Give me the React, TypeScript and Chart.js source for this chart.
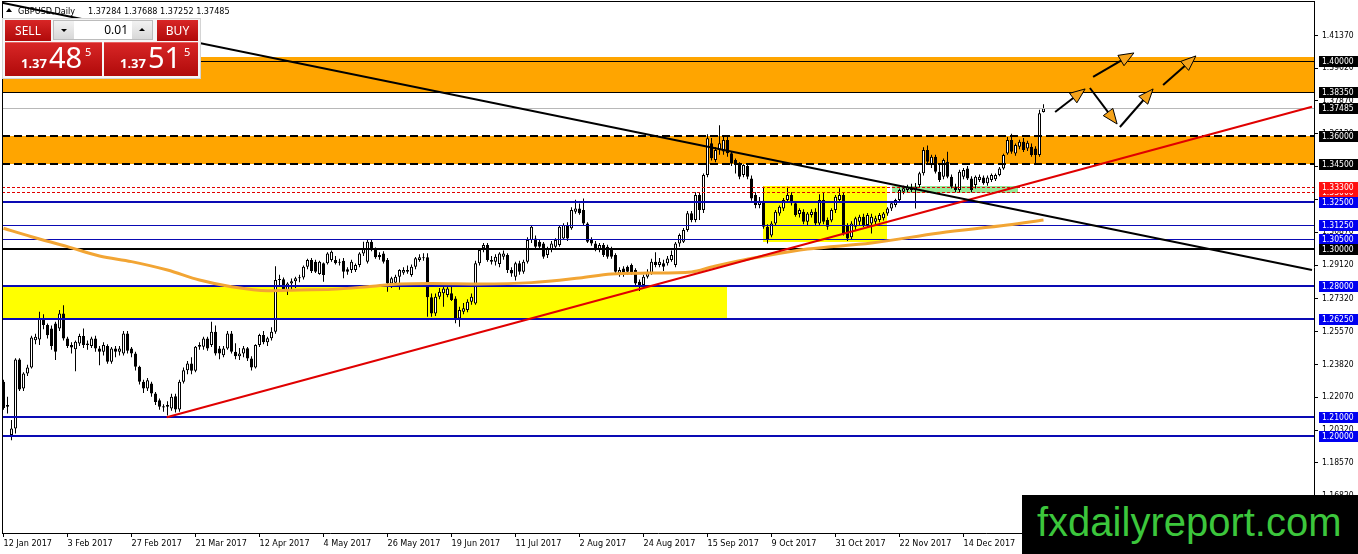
import React, { useEffect, useRef } from 'react';
import { Chart, registerables } from 'chart.js';

Chart.register(...registerables);

// ---------------- data (GBPUSD daily) ----------------
const opens = [
  1.2290, 1.2156, 1.2005, 1.2040, 1.2408, 1.2254, 1.2334, 1.2366, 1.2511, 1.2515,
  1.2627, 1.2592, 1.2574, 1.2600, 1.2574, 1.2654, 1.2520, 1.2485, 1.2463, 1.2494,
  1.2533, 1.2494, 1.2480, 1.2520, 1.2467, 1.2449, 1.2480, 1.2396, 1.2467, 1.2449,
  1.2440, 1.2547, 1.2467, 1.2440, 1.2369, 1.2289, 1.2254, 1.2280, 1.2227, 1.2191,
  1.2159, 1.2156, 1.2147, 1.2212, 1.2141, 1.2289, 1.2351, 1.2387, 1.2348, 1.2476,
  1.2476, 1.2520, 1.2485, 1.2556, 1.2467, 1.2431, 1.2467, 1.2547, 1.2450, 1.2425,
  1.2440, 1.2468, 1.2414, 1.2365, 1.2485, 1.2539, 1.2500, 1.2521, 1.2556, 1.2832,
  1.2836, 1.2779, 1.2814, 1.2825, 1.2841, 1.2846, 1.2903, 1.2939, 1.2930, 1.2864,
  1.2921, 1.2921, 1.2939, 1.2939, 1.2930, 1.2935, 1.2889, 1.2885, 1.2885, 1.2912,
  1.2974, 1.2930, 1.3036, 1.2996, 1.2965, 1.2974, 1.2939, 1.2814, 1.2818, 1.2850,
  1.2871, 1.2876, 1.2859, 1.2903, 1.2939, 1.2953, 1.2953, 1.2740, 1.2654, 1.2743,
  1.2761, 1.2752, 1.2761, 1.2734, 1.2627, 1.2663, 1.2672, 1.2716, 1.2707, 1.2921,
  1.3001, 1.3019, 1.2939, 1.2930, 1.2917, 1.2956, 1.2965, 1.2885, 1.2850, 1.2921,
  1.2876, 1.2930, 1.3045, 1.3054, 1.3036, 1.3027, 1.2965, 1.2992, 1.3010, 1.3019,
  1.3054, 1.3125, 1.3108, 1.3196, 1.3214, 1.3205, 1.3134, 1.3045, 1.3027, 1.2992,
  1.3019, 1.3010, 1.3001, 1.2965, 1.2867, 1.2894, 1.2903, 1.2912, 1.2885, 1.2823,
  1.2805, 1.2850, 1.2867, 1.2930, 1.2912, 1.2921, 1.2921, 1.2939, 1.2912, 1.3027,
  1.3036, 1.3099, 1.3188, 1.3152, 1.3285, 1.3205, 1.3392, 1.3561, 1.3472, 1.3525,
  1.3517, 1.3579, 1.3508, 1.3472, 1.3454, 1.3392, 1.3440, 1.3374, 1.3285, 1.3232,
  1.3255, 1.3116, 1.3070, 1.3134, 1.3187, 1.3214, 1.3259, 1.3285, 1.3241, 1.3184,
  1.3196, 1.3143, 1.3179, 1.3196, 1.3134, 1.3259, 1.3152, 1.3150, 1.3205, 1.3259,
  1.3285, 1.3125, 1.3060, 1.3116, 1.3143, 1.3170, 1.3125, 1.3134, 1.3143, 1.3152,
  1.3161, 1.3187, 1.3214, 1.3232, 1.3259, 1.3303, 1.3312, 1.3330, 1.3312, 1.3339,
  1.3401, 1.3525, 1.3445, 1.3490, 1.3410, 1.3383, 1.3463, 1.3383, 1.3330, 1.3312,
  1.3383, 1.3427, 1.3374, 1.3339, 1.3365, 1.3379, 1.3348, 1.3365, 1.3370, 1.3392,
  1.3427, 1.3507, 1.3579, 1.3507, 1.3543, 1.3570, 1.3534, 1.3543, 1.3534, 1.3499,
  1.37284,
];

const highs = [
  1.2300, 1.2209, 1.2085, 1.2415, 1.2415, 1.2340, 1.2380, 1.2535, 1.2545, 1.2663,
  1.2650, 1.2600, 1.2590, 1.2610, 1.2672, 1.2698, 1.2530, 1.2500, 1.2510, 1.2545,
  1.2574, 1.2510, 1.2530, 1.2535, 1.2480, 1.2500, 1.2490, 1.2475, 1.2480, 1.2480,
  1.2560, 1.2560, 1.2475, 1.2450, 1.2375, 1.2300, 1.2310, 1.2290, 1.2235, 1.2200,
  1.2170, 1.2185, 1.2225, 1.2225, 1.2300, 1.2365, 1.2400, 1.2420, 1.2480, 1.2500,
  1.2530, 1.2530, 1.2610, 1.2590, 1.2480, 1.2480, 1.2560, 1.2560, 1.2495, 1.2470,
  1.2480, 1.2475, 1.2425, 1.2490, 1.2545, 1.2560, 1.2530, 1.2580, 1.2905, 1.2860,
  1.2845, 1.2820, 1.2840, 1.2850, 1.2860, 1.2910, 1.2945, 1.2950, 1.2940, 1.2935,
  1.2925, 1.2980, 1.2990, 1.2960, 1.2945, 1.2950, 1.2900, 1.2940, 1.2920, 1.2980,
  1.3036, 1.3045, 1.3048, 1.3005, 1.2980, 1.2985, 1.2950, 1.2850, 1.2860, 1.2890,
  1.2900, 1.2910, 1.2915, 1.2955, 1.2970, 1.2975, 1.2975, 1.2760, 1.2760, 1.2790,
  1.2800, 1.2810, 1.2800, 1.2745, 1.2690, 1.2710, 1.2730, 1.2760, 1.2935, 1.3000,
  1.3030, 1.3030, 1.2960, 1.2970, 1.2980, 1.2990, 1.2975, 1.2900, 1.2930, 1.2935,
  1.2940, 1.3060, 1.3126, 1.3070, 1.3050, 1.3035, 1.3010, 1.3040, 1.3055, 1.3125,
  1.3135, 1.3140, 1.3220, 1.3260, 1.3240, 1.3267, 1.3140, 1.3060, 1.3040, 1.3030,
  1.3030, 1.3020, 1.3010, 1.2975, 1.2900, 1.2905, 1.2910, 1.2920, 1.2895, 1.2835,
  1.2860, 1.2890, 1.2945, 1.2980, 1.2950, 1.2940, 1.2960, 1.2990, 1.3035, 1.3080,
  1.3110, 1.3200, 1.3200, 1.3300, 1.3300, 1.3400, 1.3610, 1.3590, 1.3540, 1.3657,
  1.3600, 1.3600, 1.3520, 1.3480, 1.3460, 1.3450, 1.3455, 1.3390, 1.3300, 1.3275,
  1.3330, 1.3130, 1.3145, 1.3205, 1.3230, 1.3270, 1.3330, 1.3300, 1.3250, 1.3215,
  1.3210, 1.3195, 1.3210, 1.3215, 1.3290, 1.3300, 1.3165, 1.3215, 1.3285, 1.3321,
  1.3300, 1.3135, 1.3145, 1.3170, 1.3180, 1.3185, 1.3190, 1.3185, 1.3175, 1.3190,
  1.3195, 1.3220, 1.3250, 1.3265, 1.3320, 1.3335, 1.3340, 1.3345, 1.3350, 1.3410,
  1.3540, 1.3550, 1.3500, 1.3500, 1.3445, 1.3480, 1.3516, 1.3395, 1.3345, 1.3420,
  1.3430, 1.3440, 1.3385, 1.3390, 1.3395, 1.3390, 1.3390, 1.3400, 1.3400, 1.3435,
  1.3505, 1.3595, 1.3612, 1.3560, 1.3580, 1.3590, 1.3575, 1.3560, 1.3545, 1.3740,
  1.37688,
];

const lows = [
  1.2140, 1.2120, 1.1978, 1.2013, 1.2240, 1.2240, 1.2320, 1.2360, 1.2490, 1.2485,
  1.2570, 1.2520, 1.2460, 1.2405, 1.2560, 1.2510, 1.2470, 1.2440, 1.2345, 1.2480,
  1.2470, 1.2460, 1.2470, 1.2450, 1.2378, 1.2430, 1.2385, 1.2385, 1.2420, 1.2430,
  1.2430, 1.2440, 1.2420, 1.2350, 1.2275, 1.2230, 1.2240, 1.2210, 1.2165, 1.2140,
  1.2130, 1.2109, 1.2135, 1.2125, 1.2130, 1.2280, 1.2330, 1.2330, 1.2340, 1.2460,
  1.2460, 1.2455, 1.2475, 1.2430, 1.2410, 1.2420, 1.2460, 1.2440, 1.2410, 1.2405,
  1.2420, 1.2400, 1.2350, 1.2360, 1.2475, 1.2490, 1.2480, 1.2510, 1.2545, 1.2800,
  1.2775, 1.2752, 1.2780, 1.2790, 1.2820, 1.2835, 1.2890, 1.2870, 1.2870, 1.2860,
  1.2823, 1.2915, 1.2930, 1.2915, 1.2910, 1.2841, 1.2860, 1.2870, 1.2875, 1.2900,
  1.2960, 1.2920, 1.2985, 1.2945, 1.2940, 1.2920, 1.2770, 1.2790, 1.2800, 1.2780,
  1.2860, 1.2865, 1.2850, 1.2890, 1.2930, 1.2935, 1.2636, 1.2636, 1.2640, 1.2730,
  1.2690, 1.2740, 1.2720, 1.2601, 1.2583, 1.2650, 1.2660, 1.2700, 1.2700, 1.2910,
  1.2980, 1.2930, 1.2915, 1.2910, 1.2900, 1.2940, 1.2870, 1.2850, 1.2830, 1.2860,
  1.2865, 1.2920, 1.3030, 1.3000, 1.2995, 1.2945, 1.2950, 1.2980, 1.3000, 1.3010,
  1.3045, 1.3040, 1.3100, 1.3185, 1.3180, 1.3125, 1.3030, 1.3015, 1.2985, 1.2980,
  1.2955, 1.2945, 1.2945, 1.2865, 1.2850, 1.2850, 1.2860, 1.2860, 1.2805, 1.2774,
  1.2790, 1.2840, 1.2860, 1.2900, 1.2900, 1.2880, 1.2910, 1.2930, 1.2900, 1.3010,
  1.3030, 1.3090, 1.3140, 1.3140, 1.3152, 1.3190, 1.3380, 1.3470, 1.3460, 1.3500,
  1.3500, 1.3490, 1.3440, 1.3400, 1.3370, 1.3380, 1.3370, 1.3255, 1.3215, 1.3215,
  1.3105, 1.3027, 1.3060, 1.3120, 1.3175, 1.3200, 1.3245, 1.3230, 1.3170, 1.3165,
  1.3130, 1.3125, 1.3165, 1.3120, 1.3125, 1.3130, 1.3100, 1.3140, 1.3190, 1.3245,
  1.3070, 1.3040, 1.3050, 1.3100, 1.3125, 1.3115, 1.3110, 1.3080, 1.3130, 1.3140,
  1.3150, 1.3175, 1.3200, 1.3220, 1.3245, 1.3290, 1.3300, 1.3300, 1.3214, 1.3325,
  1.3390, 1.3455, 1.3430, 1.3400, 1.3355, 1.3370, 1.3375, 1.3320, 1.3300, 1.3300,
  1.3370, 1.3365, 1.3300, 1.3320, 1.3355, 1.3340, 1.3335, 1.3355, 1.3360, 1.3385,
  1.3420, 1.3500, 1.3505, 1.3495, 1.3530, 1.3515, 1.3520, 1.3490, 1.3454, 1.3490,
  1.37252,
];

const closes = [
  1.2150, 1.2165, 1.2040, 1.2408, 1.2248, 1.2334, 1.2366, 1.2525, 1.2529, 1.2627,
  1.2592, 1.2538, 1.2480, 1.2449, 1.2654, 1.2520, 1.2480, 1.2472, 1.2503, 1.2533,
  1.2485, 1.2485, 1.2520, 1.2467, 1.2449, 1.2485, 1.2396, 1.2467, 1.2449, 1.2467,
  1.2547, 1.2455, 1.2440, 1.2369, 1.2289, 1.2254, 1.2298, 1.2227, 1.2182, 1.2156,
  1.2152, 1.2165, 1.2209, 1.2141, 1.2289, 1.2351, 1.2387, 1.2348, 1.2476, 1.2485,
  1.2520, 1.2467, 1.2556, 1.2440, 1.2440, 1.2467, 1.2547, 1.2450, 1.2425, 1.2440,
  1.2468, 1.2414, 1.2365, 1.2485, 1.2539, 1.2500, 1.2521, 1.2556, 1.2832, 1.2836,
  1.2779, 1.2814, 1.2825, 1.2841, 1.2846, 1.2903, 1.2939, 1.2880, 1.2876, 1.2930,
  1.2859, 1.2974, 1.2983, 1.2921, 1.2924, 1.2876, 1.2876, 1.2930, 1.2912, 1.2974,
  1.3001, 1.3036, 1.2992, 1.2953, 1.2953, 1.2930, 1.2814, 1.2841, 1.2850, 1.2885,
  1.2885, 1.2885, 1.2903, 1.2948, 1.2953, 1.2948, 1.2740, 1.2654, 1.2743, 1.2770,
  1.2787, 1.2787, 1.2725, 1.2627, 1.2672, 1.2681, 1.2716, 1.2743, 1.2921, 1.2992,
  1.3019, 1.2939, 1.2930, 1.2956, 1.2974, 1.2974, 1.2885, 1.2867, 1.2921, 1.2876,
  1.2930, 1.3045, 1.3116, 1.3010, 1.3010, 1.2956, 1.3001, 1.3027, 1.3045, 1.3116,
  1.3125, 1.3054, 1.3205, 1.3214, 1.3188, 1.3134, 1.3036, 1.3027, 1.2992, 1.3019,
  1.2965, 1.2956, 1.2956, 1.2876, 1.2885, 1.2859, 1.2876, 1.2867, 1.2814, 1.2805,
  1.2850, 1.2876, 1.2930, 1.2912, 1.2930, 1.2903, 1.2947, 1.2965, 1.3027, 1.3072,
  1.3099, 1.3188, 1.3152, 1.3285, 1.3205, 1.3392, 1.3588, 1.3481, 1.3525, 1.3561,
  1.3579, 1.3508, 1.3454, 1.3445, 1.3383, 1.3445, 1.3383, 1.3267, 1.3232, 1.3255,
  1.3116, 1.3045, 1.3134, 1.3196, 1.3223, 1.3259, 1.3285, 1.3241, 1.3179, 1.3205,
  1.3143, 1.3187, 1.3196, 1.3134, 1.3259, 1.3143, 1.3116, 1.3205, 1.3276, 1.3285,
  1.3081, 1.3054, 1.3134, 1.3161, 1.3170, 1.3125, 1.3179, 1.3170, 1.3161, 1.3179,
  1.3187, 1.3214, 1.3241, 1.3259, 1.3312, 1.3321, 1.3330, 1.3312, 1.3330, 1.3401,
  1.3525, 1.3463, 1.3490, 1.3410, 1.3365, 1.3472, 1.3383, 1.3330, 1.3312, 1.3410,
  1.3419, 1.3374, 1.3312, 1.3383, 1.3383, 1.3348, 1.3379, 1.3392, 1.3392, 1.3427,
  1.3499, 1.3579, 1.3516, 1.3552, 1.3570, 1.3525, 1.3564, 1.3499, 1.3499, 1.3721,
  1.37485,
];

// date axis (bar index of each label) and labels
const dateTickBars = [0, 16, 32, 48, 64, 80, 96, 112, 128, 144, 160, 176, 192, 208, 224, 240, 256];
const dateTickLabels = [
  '12 Jan 2017', '3 Feb 2017', '27 Feb 2017', '21 Mar 2017', '12 Apr 2017', '4 May 2017',
  '26 May 2017', '19 Jun 2017', '11 Jul 2017', '2 Aug 2017', '24 Aug 2017', '15 Sep 2017',
  '9 Oct 2017', '31 Oct 2017', '22 Nov 2017', '14 Dec 2017', '5 Jan 2018',
];

// price axis ticks
const priceTicks = [1.1682, 1.1857, 1.2032, 1.2207, 1.2382, 1.2557, 1.2732, 1.2912, 1.3087, 1.3262, 1.3437, 1.3612, 1.3787, 1.3962, 1.4137];

// moving average (read at selected bars)
const maBars = [0, 7, 16, 24, 32, 41, 49, 57, 66, 74, 82, 91, 99, 107, 119, 132, 144, 152, 161, 172, 177, 184, 189, 201, 217, 234, 251, 260];
const maValues = [1.3108, 1.3063, 1.3010, 1.2960, 1.2930, 1.2885, 1.2832, 1.2796, 1.2775, 1.2779, 1.2782, 1.2796, 1.2811, 1.2814, 1.2811, 1.2818, 1.2843, 1.2864, 1.2869, 1.2875, 1.2901, 1.2935, 1.2955, 1.2997, 1.3029, 1.3083, 1.3125, 1.3152];

// trend lines (bar index, price)
const blackTrendBars = [-0.375, 327.125];
const blackTrendPrices = [1.4311, 1.2885];
const redTrendBars = [40.8, 327.125];
const redTrendPrices = [1.2100, 1.3756];

// zones (bar range, price range)
const zoneStartBars = [-0.375, -0.375, -0.375, 189.8, 222];
const zoneEndBars = [327.625, 327.625, 180.9, 220.8, 253.7];
const zoneHighs = [1.4024, 1.3600, 1.2800, 1.3333, 1.3331];
const zoneLows = [1.3830, 1.3450, 1.2625, 1.3035, 1.3296];

// horizontal levels
const levelPrices = [1.4, 1.3835, 1.37485, 1.36, 1.345, 1.333, 1.33, 1.325, 1.3125, 1.305, 1.3, 1.28, 1.2625, 1.21, 1.2];

// price tags on the axis
const tagPrices = [1.4, 1.3835, 1.37485, 1.36, 1.345, 1.33, 1.333, 1.325, 1.3125, 1.305, 1.3, 1.28, 1.2625, 1.21, 1.2];

// projected path arrows (bar index, price)
const arrowFromBars = [262.9, 272.4, 271.6, 279.1, 289.9];
const arrowFromPrices = [1.3728, 1.3915, 1.3856, 1.3648, 1.3872];
const arrowToBars = [270.4, 282.6, 278.4, 287.4, 298.1];
const arrowToPrices = [1.3851, 1.4043, 1.3664, 1.3851, 1.4027];

// quote panel
const symbolName = 'GBPUSD,Daily';
const bidPrice = 1.37485;
const askPrice = 1.37515;
const lotSize = '0.01';

// ---------------- styles ----------------
const FONT = '"DejaVu Sans Condensed", "Liberation Sans Narrow", "DejaVu Sans", sans-serif';
const zoneColors = ['#ffa500', '#ffa500', '#ffff00', '#ffff00', '#98e898'];
const BLUE = '#0a0ab4';
const levelColors = ['#000', '#000', '#b8b8b8', '#000', '#000', '#e00000', '#e00000', BLUE, BLUE, BLUE, '#000', BLUE, BLUE, BLUE, BLUE];
const levelWidths = [1, 1, 1, 2, 2, 1, 1, 2, 1, 1, 2, 2, 2, 2, 2];
const levelDashes = [[], [], [], [8, 4], [8, 4], [3, 2], [3, 2], [], [], [], [], [], [], [], []];
const TAG_BLUE = '#0000f0';
const TAG_RED = '#ff1010';
const tagColors = ['#000', '#000', '#000', '#000', '#000', TAG_RED, TAG_RED, TAG_BLUE, TAG_BLUE, TAG_BLUE, '#000', TAG_BLUE, TAG_BLUE, TAG_BLUE, TAG_BLUE];

const overlayPlugin = {
  id: 'mt4Overlay',
  beforeDatasetsDraw(chart: any) {
    const { ctx, chartArea: a, scales } = chart;
    const x = scales.x, y = scales.y;
    ctx.save();
    ctx.beginPath();
    ctx.rect(a.left, a.top, a.right - a.left, a.bottom - a.top);
    ctx.clip();
    zoneStartBars.forEach((s, k) => {
      const x1 = Math.round(x.getPixelForValue(s));
      const x2 = Math.round(x.getPixelForValue(zoneEndBars[k]));
      const y1 = Math.round(y.getPixelForValue(zoneHighs[k]));
      const y2 = Math.round(y.getPixelForValue(zoneLows[k]));
      ctx.fillStyle = zoneColors[k];
      ctx.fillRect(x1, y1, x2 - x1, y2 - y1);
    });
    ctx.restore();
  },
  afterDatasetDraw(chart: any, args: any) {
    if (args.index !== 3) return; // after the candle bodies
    const { ctx, chartArea: a, scales } = chart;
    const y = scales.y;
    ctx.save();
    ctx.beginPath();
    ctx.rect(a.left, a.top, a.right - a.left, a.bottom - a.top);
    ctx.clip();
    levelPrices.forEach((p, k) => {
      const w = levelWidths[k];
      let py = Math.round(y.getPixelForValue(p));
      if (w % 2 === 1) py += 0.5;
      ctx.strokeStyle = levelColors[k];
      ctx.lineWidth = w;
      ctx.setLineDash(levelDashes[k]);
      ctx.beginPath();
      ctx.moveTo(a.left, py);
      ctx.lineTo(a.right, py);
      ctx.stroke();
    });
    ctx.restore();
  },
  afterDatasetsDraw(chart: any) {
    const { ctx, chartArea: a, scales } = chart;
    const x = scales.x, y = scales.y;
    ctx.save();
    ctx.beginPath();
    ctx.rect(a.left, a.top, a.right - a.left, a.bottom - a.top);
    ctx.clip();
    ctx.setLineDash([]);
    arrowFromBars.forEach((b, k) => {
      const x1 = x.getPixelForValue(b), y1 = y.getPixelForValue(arrowFromPrices[k]);
      const x2 = x.getPixelForValue(arrowToBars[k]), y2 = y.getPixelForValue(arrowToPrices[k]);
      const ang = Math.atan2(y2 - y1, x2 - x1);
      const L = 15, W = 6;
      const bx = x2 - L * Math.cos(ang), by = y2 - L * Math.sin(ang);
      ctx.strokeStyle = '#000';
      ctx.lineWidth = 2;
      ctx.beginPath();
      ctx.moveTo(x1, y1);
      ctx.lineTo(bx, by);
      ctx.stroke();
      ctx.beginPath();
      ctx.moveTo(x2, y2);
      ctx.lineTo(bx + W * Math.sin(ang), by - W * Math.cos(ang));
      ctx.lineTo(bx - W * Math.sin(ang), by + W * Math.cos(ang));
      ctx.closePath();
      ctx.fillStyle = '#f5a31a';
      ctx.fill();
      ctx.lineWidth = 1;
      ctx.stroke();
    });
    ctx.restore();
  },
  afterDraw(chart: any) {
    const { ctx, chartArea: a, scales } = chart;
    const y = scales.y;
    ctx.save();
    // frame (top and left)
    ctx.strokeStyle = '#000';
    ctx.lineWidth = 1;
    ctx.beginPath();
    ctx.moveTo(a.left + 0.5, a.top);
    ctx.lineTo(a.left + 0.5, a.bottom);
    ctx.moveTo(a.left, a.top + 0.5);
    ctx.lineTo(a.right, a.top + 0.5);
    ctx.stroke();
    // price tags
    ctx.font = `8.5px ${FONT}`;
    ctx.textAlign = 'left';
    ctx.textBaseline = 'middle';
    tagPrices.forEach((p, k) => {
      const py = Math.round(y.getPixelForValue(p));
      const left = a.right + 5;
      ctx.fillStyle = tagColors[k];
      ctx.fillRect(left, py - 5, chart.width - left, 11);
      ctx.fillStyle = '#fff';
      ctx.fillText(p.toFixed(5), a.right + 8, py + 0.5);
    });
    ctx.restore();
  },
};

function CandleChart() {
  const canvasRef = useRef<HTMLCanvasElement>(null);
  useEffect(() => {
    const canvas = canvasRef.current;
    if (!canvas) return;
    const idx = opens.map((_, i) => i);
    const chart = new Chart(canvas, {
      type: 'bar',
      data: {
        datasets: [
          {
            type: 'line',
            label: 'Trend down',
            data: blackTrendBars.map((b, k) => ({ x: b, y: blackTrendPrices[k] })),
            borderColor: '#000',
            borderWidth: 2,
            pointRadius: 0,
            order: 1,
          } as any,
          {
            type: 'line',
            label: 'Trend up',
            data: redTrendBars.map((b, k) => ({ x: b, y: redTrendPrices[k] })),
            borderColor: '#e00000',
            borderWidth: 2,
            pointRadius: 0,
            order: 1,
          } as any,
          {
            type: 'line',
            label: 'MA',
            data: maBars.map((b, k) => ({ x: b, y: maValues[k] })),
            borderColor: '#f2a534',
            borderWidth: 3,
            pointRadius: 0,
            cubicInterpolationMode: 'monotone',
            order: 2,
          } as any,
          {
            type: 'bar',
            label: 'Body',
            data: idx.map((i) => ({ x: i, y: [opens[i], closes[i]] })),
            backgroundColor: idx.map((i) => (closes[i] >= opens[i] ? '#ffffff' : '#000000')),
            borderColor: '#000',
            borderWidth: 1,
            borderSkipped: false,
            barThickness: 3,
            grouped: false,
            inflateAmount: 0,
            minBarLength: 1,
            order: 3,
          } as any,
          {
            type: 'bar',
            label: 'Wick',
            data: idx.map((i) => ({ x: i, y: [lows[i], highs[i]] })),
            backgroundColor: '#000',
            borderWidth: 0,
            barThickness: 1,
            grouped: false,
            inflateAmount: 0,
            order: 4,
          } as any,
        ],
      },
      options: {
        responsive: false,
        maintainAspectRatio: false,
        devicePixelRatio: 1,
        animation: false,
        events: [],
        layout: { autoPadding: false, padding: { left: 2, top: 1, right: 0, bottom: 0 } } as any,
        plugins: { legend: { display: false }, tooltip: { enabled: false }, title: { display: false } },
        scales: {
          x: {
            type: 'linear',
            position: 'bottom',
            min: -0.375,
            max: 327.625,
            bounds: 'data',
            offset: false,
            afterBuildTicks: (s: any) => {
              s.ticks = dateTickBars.map((v) => ({ value: v }));
            },
            afterFit: (s: any) => {
              s.height = 21;
              s.paddingLeft = 0;
              s.paddingRight = 0;
              s.paddingTop = 0;
              s.paddingBottom = 0;
            },
            ticks: {
              autoSkip: false,
              maxRotation: 0,
              minRotation: 0,
              align: 'start',
              padding: 1,
              color: '#000',
              font: { family: FONT, size: 9 },
              callback: (_v: any, index: number) => dateTickLabels[index],
            },
            grid: { drawOnChartArea: false, drawTicks: true, tickLength: 4, color: '#000', offset: false },
            border: { display: true, color: '#000', width: 1 },
          } as any,
          y: {
            type: 'linear',
            position: 'right',
            min: 1.148267,
            max: 1.432,
            bounds: 'data',
            afterBuildTicks: (s: any) => {
              s.ticks = priceTicks.map((v) => ({ value: v }));
            },
            afterFit: (s: any) => {
              s.width = 44;
              s.paddingLeft = 0;
              s.paddingRight = 0;
              s.paddingTop = 0;
              s.paddingBottom = 0;
            },
            ticks: {
              autoSkip: false,
              padding: 4,
              color: '#000',
              font: { family: FONT, size: 8.5 },
              callback: (v: any) => Number(v).toFixed(5),
            },
            grid: { drawOnChartArea: false, drawTicks: true, tickLength: 4, color: '#000' },
            border: { display: true, color: '#000', width: 1 },
          } as any,
        },
      },
      plugins: [overlayPlugin],
    });
    return () => chart.destroy();
  }, []);
  return (
    <canvas
      ref={canvasRef}
      width={1358}
      height={554}
      style={{ position: 'absolute', left: 0, top: 0, width: 1358, height: 554 }}
    />
  );
}

const RED_GRAD = 'linear-gradient(#d82626, #b00a0a)';
const UI_FONT = '"Noto Sans", "Open Sans", sans-serif';

function PriceBox({ left, width, value }: { left: number; width: number; value: number }) {
  const s = value.toFixed(5);
  const small = s.slice(0, 4);
  const big = s.slice(4, 6);
  const sup = s.slice(6);
  return (
    <div style={{ position: 'absolute', left, top: 42, width, height: 34, background: RED_GRAD, borderTop: '1px solid #e86060', boxSizing: 'border-box', color: '#fff', fontFamily: UI_FONT }}>
      <span style={{ position: 'absolute', left: 16, top: 14, fontSize: 13, lineHeight: '13px', fontWeight: 700 }}>{small}</span>
      <span style={{ position: 'absolute', left: 44, top: -1, fontSize: 29, lineHeight: '29px' }}>{big}</span>
      <span style={{ position: 'absolute', left: 80, top: 3, fontSize: 11, lineHeight: '11px' }}>{sup}</span>
    </div>
  );
}

function TradePanel() {
  const btn: React.CSSProperties = { position: 'absolute', top: 20, height: 21, background: RED_GRAD, color: '#fff', fontFamily: UI_FONT, fontSize: 12, lineHeight: '21px', textAlign: 'center' };
  const gray: React.CSSProperties = { position: 'absolute', top: 0, width: 20, height: 18, background: 'linear-gradient(#f2f2f2, #d8d8d8)' };
  return (
    <>
      <div style={{ position: 'absolute', left: 2, top: 18, width: 199, height: 61, background: '#f6f6f6', border: '1px solid #d4d4d4', boxSizing: 'border-box' }} />
      <div style={{ ...btn, left: 5, width: 46 }}>SELL</div>
      <div style={{ ...btn, left: 157, width: 41 }}>BUY</div>
      <div style={{ position: 'absolute', left: 53, top: 20, width: 100, height: 20, background: '#fff', border: '1px solid #bcbcbc', boxSizing: 'border-box' }}>
        <div style={{ ...gray, left: 0 }}>
          <div style={{ position: 'absolute', left: 7, top: 8, width: 0, height: 0, borderLeft: '3px solid transparent', borderRight: '3px solid transparent', borderTop: '3px solid #000' }} />
        </div>
        <div style={{ position: 'absolute', left: 20, top: 0, width: 54, height: 18, textAlign: 'right', fontFamily: UI_FONT, fontSize: 12, lineHeight: '18px', color: '#000' }}>{lotSize}</div>
        <div style={{ ...gray, left: 78 }}>
          <div style={{ position: 'absolute', left: 7, top: 7, width: 0, height: 0, borderLeft: '3px solid transparent', borderRight: '3px solid transparent', borderBottom: '3px solid #000' }} />
        </div>
      </div>
      <PriceBox left={5} width={97} value={bidPrice} />
      <PriceBox left={104} width={94} value={askPrice} />
    </>
  );
}

function Header() {
  const last = opens.length - 1;
  const quote = [opens[last], highs[last], lows[last], closes[last]].map((v) => v.toFixed(5)).join(' ');
  const txt: React.CSSProperties = { position: 'absolute', top: 6, fontFamily: FONT, fontStretch: 'condensed', fontSize: 9, lineHeight: '10px', color: '#000', whiteSpace: 'nowrap' };
  return (
    <>
      <div style={{ position: 'absolute', left: 6, top: 8, width: 0, height: 0, borderLeft: '3px solid transparent', borderRight: '3px solid transparent', borderBottom: '4px solid #000' }} />
      <div style={{ ...txt, left: 18 }}>{symbolName}</div>
      <div style={{ ...txt, left: 88 }}>{quote}</div>
    </>
  );
}

function Watermark() {
  return (
    <div style={{ position: 'absolute', left: 1022, top: 495, width: 336, height: 59, background: '#000' }}>
      <div style={{ position: 'absolute', left: 15, top: 7, fontFamily: '"Liberation Sans", Arial, sans-serif', fontSize: 40, lineHeight: '40px', color: '#3cc63c', whiteSpace: 'nowrap' }}>
        fxdailyreport.com
      </div>
    </div>
  );
}

export default function App() {
  return (
    <div style={{ position: 'absolute', left: 0, top: 0, width: 1358, height: 554, overflow: 'hidden', background: '#fff' }}>
      <CandleChart />
      <Header />
      <TradePanel />
      <Watermark />
    </div>
  );
}
